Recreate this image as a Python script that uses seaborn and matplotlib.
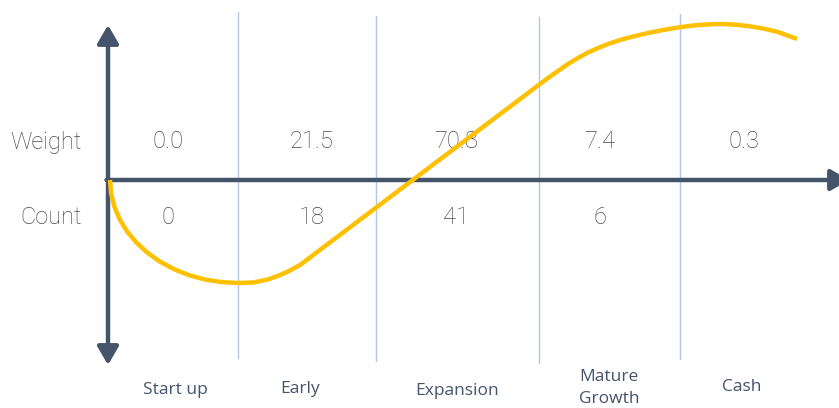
import pandas as pd
import matplotlib
matplotlib.use("Agg")
import matplotlib.pyplot as plt
import seaborn as sns

# chart units: x measured from the vertical axis, y measured from the horizontal axis
stages = ["Start up", "Early", "Expansion", "Mature\nGrowth", "Cash"]
stage_x = [67, 192, 349, 501, 634]
stage_y = [-210, -209, -211, -208, -207]

weights = ["0.0", "21.5", "70.8", "7.4", "0.3"]
counts = ["0", "18", "41", "6", ""]
value_x = [60, 204, 348, 492, 636]

divider_x = [130, 268, 431, 572]
divider_top = [168, 164, 163, 166]
divider_bottom = [-178, -181, -183, -179]

# J-curve
curve_x = [2, 3.1, 6.4, 11.7, 19.1, 28.5, 39.5, 52.1, 66, 81, 96.9, 113.3, 130,
           145, 160, 172, 182, 192,
           432, 440, 450, 460, 470, 480, 490, 500, 512, 525, 540, 555, 570, 585,
           599, 612, 625, 640, 655, 670, 689]
curve_y = [0, -13.4, -26.7, -39.4, -51.5, -62.7, -72.8, -81.7, -89.2, -95.2, -99.5, -102.1, -103,
           -102.5, -99.5, -95, -90.5, -85,
           96, 102, 109, 116, 122, 127.5, 132, 136, 140, 143.5, 147, 150, 152.5, 154.5,
           155.5, 156, 155.5, 154, 151.5, 148, 141]

AXIS = "#44546A"
GOLD = "#FFC000"
GREY = "#4a4a4a"

sns.set_style("white")
plt.rcParams['font.family'] = ['Roboto', 'DejaVu Sans']

fig = plt.figure(figsize=(8.39, 4.08), dpi=100)
ax = fig.add_axes([0, 0, 1, 1])

# stage dividers
for x, top, bot in zip(divider_x, divider_top, divider_bottom):
    ax.plot([x, x], [bot, top], color="#B4C7E7", lw=1.0, zorder=1)

# lifecycle curve
df = pd.DataFrame({"x": curve_x, "y": curve_y})
sns.lineplot(data=df, x="x", y="y", sort=False, color=GOLD, lw=3.2, ax=ax,
             zorder=4, solid_capstyle="butt", solid_joinstyle="round")
ax.set_xlim(-108, 731)
ax.set_ylim(-228, 180)
ax.axis("off")

# axes as arrows
ax.annotate("", xy=(0, 155), xytext=(0, -185), annotation_clip=False,
            arrowprops=dict(arrowstyle="<|-|>,head_length=0.55,head_width=0.32",
                            color=AXIS, lw=3.2, mutation_scale=20,
                            shrinkA=0, shrinkB=0), zorder=3)
ax.annotate("", xy=(741, 0), xytext=(-1.5, 0), annotation_clip=False,
            arrowprops=dict(arrowstyle="-|>,head_length=0.55,head_width=0.32",
                            color=AXIS, lw=3.2, mutation_scale=20,
                            shrinkA=0, shrinkB=0), zorder=3)

ax.text(-26, 38, "Weight", ha="right", va="center", fontsize=17,
        color=GREY, fontweight="light")
ax.text(-26, -37, "Count", ha="right", va="center", fontsize=17,
        color=GREY, fontweight="light")
for x, w, c in zip(value_x, weights, counts):
    ax.text(x, 38.5, w, ha="center", va="center", fontsize=17, color=GREY,
            fontweight="light", zorder=2)
    if c:
        ax.text(x, -37, c, ha="center", va="center", fontsize=17, color=GREY,
                fontweight="light", zorder=2)

for label, x, y in zip(stages, stage_x, stage_y):
    ax.text(x, y, label, ha="center", va="center", fontsize=12.5, color=AXIS,
            family=["Open Sans", "DejaVu Sans"], linespacing=1.55)

plt.savefig("out.png", dpi=100)
plt.close()
